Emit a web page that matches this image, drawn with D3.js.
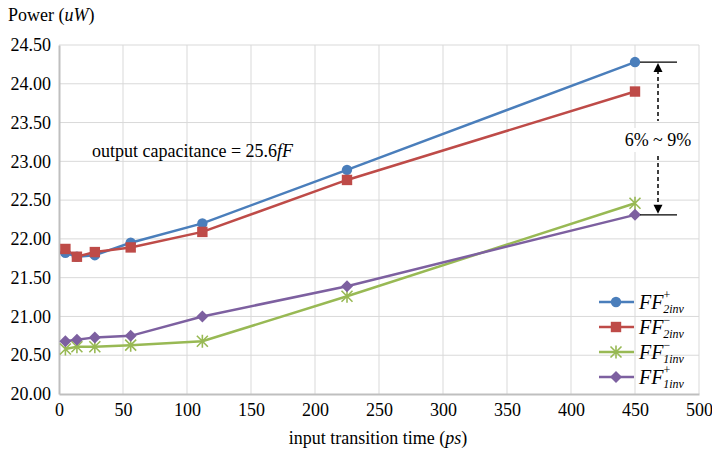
<!DOCTYPE html>
<html>
<head>
<meta charset="utf-8">
<script src="https://cdnjs.cloudflare.com/ajax/libs/d3/7.8.5/d3.min.js"></script>
<style>
  body { margin: 0; background: #fff; }
  text { font-family: "Liberation Serif", "Times New Roman", serif; fill: #000; }
</style>
</head>
<body>
<script>
// chart data
var xValues = [5, 14, 28, 56, 112, 225, 450];
var seriesNames = ["FF+2inv", "FF-2inv", "FF-1inv", "FF+1inv"];
var ff2invPlus  = [21.82, 21.77, 21.79, 21.95, 22.20, 22.89, 24.28];
var ff2invMinus = [21.87, 21.77, 21.83, 21.89, 22.09, 22.76, 23.90];
var ff1invMinus = [20.58, 20.61, 20.61, 20.63, 20.68, 21.26, 22.46];
var ff1invPlus  = [20.68, 20.70, 20.73, 20.75, 21.00, 21.39, 22.31];
var xTicks = [0, 50, 100, 150, 200, 250, 300, 350, 400, 450, 500];
var yTicks = [20, 20.5, 21, 21.5, 22, 22.5, 23, 23.5, 24, 24.5];

var width = 712, height = 452;
var padLeft = 59, padRight = 699, padTop = 45, padBottom = 394;

var series = [
  { name: seriesNames[0], sign: "+", sub: "2inv", values: ff2invPlus,  color: "#4a7ebb", marker: "circle" },
  { name: seriesNames[1], sign: "\u2212", sub: "2inv", values: ff2invMinus, color: "#be4b48", marker: "square" },
  { name: seriesNames[2], sign: "\u2212", sub: "1inv", values: ff1invMinus, color: "#98b954", marker: "star" },
  { name: seriesNames[3], sign: "+", sub: "1inv", values: ff1invPlus,  color: "#7d60a0", marker: "diamond" }
];

var svg = d3.select("body").append("svg")
  .attr("width", width)
  .attr("height", height);

var xScale = d3.scaleLinear().domain([0, 500]).range([padLeft, padRight]);
var yScale = d3.scaleLinear().domain([20, 24.5]).range([padBottom, padTop]);

// gridlines
svg.append("g").selectAll("line").data(yTicks.slice(1)).enter().append("line")
  .attr("x1", padLeft).attr("x2", padRight)
  .attr("y1", d => yScale(d)).attr("y2", d => yScale(d))
  .attr("stroke", "#d9d9d9").attr("stroke-width", 1);
svg.append("g").selectAll("line").data(xTicks.slice(1)).enter().append("line")
  .attr("x1", d => xScale(d)).attr("x2", d => xScale(d))
  .attr("y1", padTop).attr("y2", padBottom)
  .attr("stroke", "#d9d9d9").attr("stroke-width", 1);

// axes
var xAxis = d3.axisBottom(xScale).tickValues(xTicks).tickSize(0).tickPadding(7).tickFormat(d3.format("d"));
var yAxis = d3.axisLeft(yScale).tickValues(yTicks).tickSize(0).tickPadding(8).tickFormat(d3.format(".2f"));

var gx = svg.append("g").attr("transform", "translate(0," + padBottom + ")").call(xAxis);
var gy = svg.append("g").attr("transform", "translate(" + padLeft + ",0)").call(yAxis);
[gx, gy].forEach(function (g) {
  g.attr("font-family", "Liberation Serif").attr("font-size", 18);
  g.select(".domain").attr("stroke", "#bfbfbf").attr("stroke-width", 2);
  g.selectAll(".tick text").attr("fill", "#000");
});
gx.selectAll(".tick text").attr("dy", "0.85em");
gy.selectAll(".tick text").attr("dy", "0.32em");

// lines
var line = d3.line().x((d, i) => xScale(xValues[i])).y(d => yScale(d));
series.forEach(function (s) {
  svg.append("path").datum(s.values)
    .attr("d", line)
    .attr("fill", "none")
    .attr("stroke", s.color)
    .attr("stroke-width", 2.5);
});

function drawMarker(g, type, color, x, y) {
  if (type === "circle") {
    g.append("circle").attr("cx", x).attr("cy", y).attr("r", 5.2).attr("fill", color);
  } else if (type === "square") {
    g.append("rect").attr("x", x - 5.2).attr("y", y - 5.2).attr("width", 10.4).attr("height", 10.4).attr("fill", color);
  } else if (type === "diamond") {
    g.append("path").attr("d", "M0,-6L6,0L0,6L-6,0Z").attr("transform", "translate(" + x + "," + y + ")").attr("fill", color);
  } else if (type === "star") {
    var r = 5.5;
    var p = "M" + (-r) + "," + (-r) + "L" + r + "," + r + "M" + (-r) + "," + r + "L" + r + "," + (-r) + "M0," + (-r - 1) + "L0," + (r + 1);
    g.append("path").attr("d", p).attr("transform", "translate(" + x + "," + y + ")")
      .attr("stroke", color).attr("stroke-width", 1.6).attr("fill", "none");
  }
}

series.forEach(function (s) {
  var g = svg.append("g");
  s.values.forEach(function (v, i) {
    drawMarker(g, s.marker, s.color, xScale(xValues[i]), yScale(v));
  });
});

// axis titles
var yt = svg.append("text").attr("x", 8).attr("y", 21).style("font-size", "18px");
yt.append("tspan").text("Power (");
yt.append("tspan").style("font-style", "italic").text("uW");
yt.append("tspan").text(")");

var xt = svg.append("text").attr("x", 378).attr("y", 444).attr("text-anchor", "middle").style("font-size", "18px");
xt.append("tspan").text("input transition time (");
xt.append("tspan").style("font-style", "italic").text("ps");
xt.append("tspan").text(")");

// annotation text
var at = svg.append("text").attr("x", 92).attr("y", 157).style("font-size", "18px");
at.append("tspan").text("output capacitance = 25.6");
at.append("tspan").style("font-style", "italic").text("fF");

// range arrow
var topY = yScale(ff2invPlus[6]), botY = yScale(ff1invPlus[6]);
var ax = 658;
svg.append("line").attr("x1", 640).attr("x2", 677).attr("y1", topY).attr("y2", topY).attr("stroke", "#000").attr("stroke-width", 1.3);
svg.append("line").attr("x1", 640).attr("x2", 677).attr("y1", botY).attr("y2", botY).attr("stroke", "#000").attr("stroke-width", 1.3);
svg.append("line").attr("x1", ax).attr("x2", ax).attr("y1", topY + 8).attr("y2", 121)
  .attr("stroke", "#000").attr("stroke-width", 1.5).attr("stroke-dasharray", "4,3");
svg.append("line").attr("x1", ax).attr("x2", ax).attr("y1", 156).attr("y2", botY - 8)
  .attr("stroke", "#000").attr("stroke-width", 1.5).attr("stroke-dasharray", "4,3");
svg.append("path").attr("d", "M" + ax + "," + (topY + 1) + "l-4.5,9h9z").attr("fill", "#000");
svg.append("path").attr("d", "M" + ax + "," + (botY - 1) + "l-4.5,-9h9z").attr("fill", "#000");
svg.append("rect").attr("x", 622).attr("y", 128).attr("width", 74).attr("height", 24).attr("fill", "#fff");
svg.append("text").attr("x", ax).attr("y", 146).attr("text-anchor", "middle").style("font-size", "18px").text("6% ~ 9%");

// legend
var legY = [302, 327, 352, 377];
var lg = svg.append("g");
series.forEach(function (s, i) {
  var y = legY[i];
  lg.append("line").attr("x1", 599).attr("x2", 634).attr("y1", y).attr("y2", y).attr("stroke", s.color).attr("stroke-width", 2.5);
  drawMarker(lg, s.marker, s.color, 616, y);
  var t = lg.append("text").attr("x", 639).attr("y", y + 7).style("font-size", "20px").style("font-style", "italic");
  t.append("tspan").text("FF");
  t.append("tspan").attr("dy", -10).style("font-size", "12px").style("font-style", "normal").text(s.sign);
  t.append("tspan").attr("dx", s.sign === "+" ? -7 : -7).attr("dy", 14).style("font-size", "12px").text(s.sub);
});
</script>
</body>
</html>
